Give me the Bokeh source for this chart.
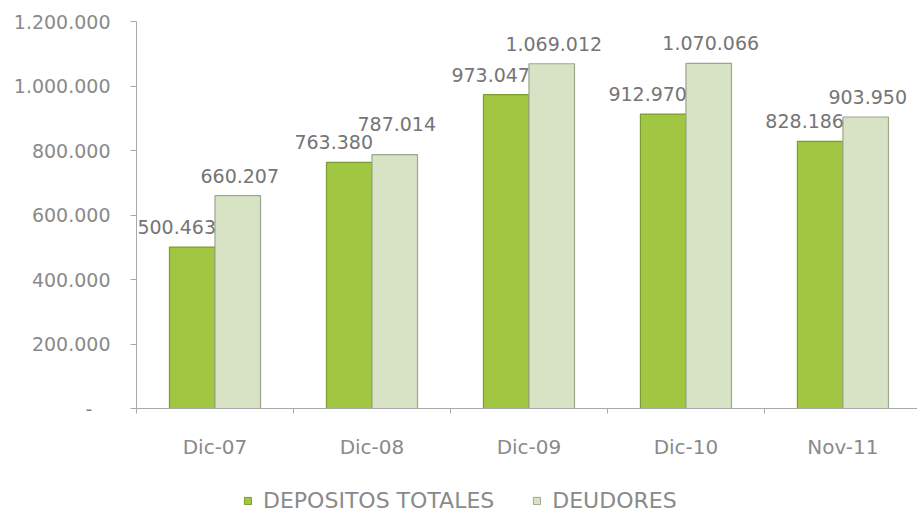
from bokeh.plotting import figure
from bokeh.layouts import column
from bokeh.models import Range1d, FixedTicker, Legend, LegendItem, ColumnDataSource
from bokeh.core.properties import value
from bokeh.embed import file_html
from bokeh.resources import INLINE
import numpy as np

# ---- data ----
categories = ["Dic-07", "Dic-08", "Dic-09", "Dic-10", "Nov-11"]
depositos = [500463, 763380, 973047, 912970, 828186]
deudores = [660207, 787014, 1069012, 1070066, 903950]
series_names = ["DEPOSITOS TOTALES", "DEUDORES"]
y_ticks = [0, 200000, 400000, 600000, 800000, 1000000, 1200000]


def fmt(v):
    return f"{v:,}".replace(",", ".")


FONT = "DejaVu Sans"
GREEN = "#a0c642"
GREEN_EDGE = "#7c9b33"
LIGHT = "#d8e3c5"
LIGHT_EDGE = "#9aa78a"

n = len(categories)
xc = np.arange(n) + 0.5
W = 0.29
x_dep = xc - W / 2
x_deu = xc + W / 2

dep_arr = np.array(depositos)
deu_arr = np.array(deudores)
# lift the second label when the two labels of a group would collide
extra = np.where(np.abs(deu_arr - dep_arr) < 50000, -11, 0)

src = ColumnDataSource(dict(
    x_dep=x_dep, x_deu=x_deu, xc=xc,
    dep=depositos, deu=deudores,
    dep_lbl=[fmt(v) for v in depositos],
    deu_lbl=[fmt(v) for v in deudores],
    deu_off=(-20 + extra).tolist(),
))

LEG_H = 26
p = figure(width=917, height=513 - LEG_H, output_backend="svg", toolbar_location=None,
           x_range=Range1d(0, 4.975), y_range=Range1d(0, y_ticks[-1]),
           min_border_left=136, min_border_right=0, min_border_top=21,
           min_border_bottom=513 - LEG_H - 21 - 387)
p.outline_line_color = None
p.xgrid.visible = False
p.ygrid.visible = False
p.background_fill_color = "white"
p.border_fill_color = "white"

r_dep = p.vbar(x="x_dep", top="dep", width=W, bottom=0, source=src,
               fill_color=GREEN, line_color=GREEN_EDGE, line_width=1.2)
r_deu = p.vbar(x="x_deu", top="deu", width=W, bottom=0, source=src,
               fill_color=LIGHT, line_color=LIGHT_EDGE, line_width=1.2)

# value labels
p.text(x="xc", y="dep", text="dep_lbl", source=src, text_align="right",
       text_baseline="middle", x_offset=1, y_offset=-20,
       text_font=value(FONT), text_font_size="19px", text_color="#757575")
p.text(x="x_deu", y="deu", text="deu_lbl", source=src, text_align="center",
       text_baseline="middle", x_offset=2, y_offset="deu_off",
       text_font=value(FONT), text_font_size="19px", text_color="#757575")

# y axis
ya = p.yaxis[0]
ya.ticker = FixedTicker(ticks=y_ticks, minor_ticks=[])
overrides = {t: fmt(t) for t in y_ticks}
overrides[0] = "-\u00a0\u00a0\u00a0"
ya.major_label_overrides = overrides
ya.axis_line_color = "#a8a8a8"
ya.major_tick_line_color = "#a8a8a8"
ya.major_tick_out = 6
ya.major_tick_in = 0
ya.minor_tick_line_color = None
ya.major_label_standoff = 20
ya.major_label_text_font = FONT
ya.major_label_text_font_size = "19px"
ya.major_label_text_color = "#8a8a8a"

# x axis
xa = p.xaxis[0]
xa.ticker = FixedTicker(ticks=xc.tolist(), minor_ticks=list(range(n + 1)))
xa.major_label_overrides = {float(x): c for x, c in zip(xc, categories)}
xa.axis_line_color = "#a8a8a8"
xa.major_tick_line_color = None
xa.minor_tick_line_color = "#a8a8a8"
xa.minor_tick_out = 5
xa.minor_tick_in = 0
xa.major_label_standoff = 20
xa.major_label_text_font = FONT
xa.major_label_text_font_size = "20px"
xa.major_label_text_color = "#8a8a8a"

# ---- legend strip (frame aligned with the chart's frame) ----
p2 = figure(width=917, height=LEG_H, output_backend="svg", toolbar_location=None,
            x_range=Range1d(0, 1), y_range=Range1d(0, 1),
            min_border=0)
p2.axis.visible = False
p2.grid.visible = False
p2.outline_line_color = None
p2.background_fill_color = "white"
p2.border_fill_color = "white"
# legend proxies, placed fully outside the visible ranges
k_dep = p2.vbar(x=[-5], top=[-5], bottom=[-6], width=0.1,
                fill_color=GREEN, line_color=GREEN_EDGE)
k_deu = p2.vbar(x=[-5], top=[-5], bottom=[-6], width=0.1,
                fill_color=LIGHT, line_color=LIGHT_EDGE)

legend = Legend(items=[LegendItem(label=series_names[0], renderers=[k_dep]),
                       LegendItem(label=series_names[1], renderers=[k_deu])],
                location=(107, 0), orientation="horizontal",
                padding=0, margin=0, spacing=38, label_standoff=11,
                glyph_width=9, glyph_height=9,
                label_text_font=FONT, label_text_font_size="22px",
                label_text_color="#8a8a8a",
                border_line_color=None, background_fill_alpha=0)
p2.add_layout(legend, "center")

layout = column(p, p2, spacing=0)
open("out.html", "w").write(file_html(layout, INLINE))
